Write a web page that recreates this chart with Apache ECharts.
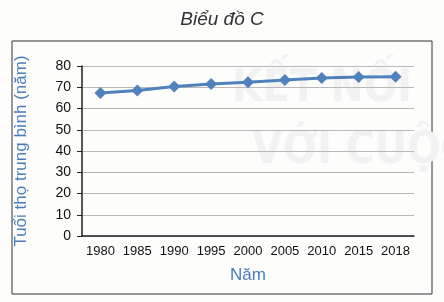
<!DOCTYPE html>
<html><head><meta charset="utf-8">
<script src="https://cdn.jsdelivr.net/npm/echarts@6/dist/echarts.min.js"></script>
<style>html,body{margin:0;padding:0;background:#fdfdfc}#c{width:444px;height:302px}</style>
</head><body><div id="c"></div>
<script>
const categories = ['1980','1985','1990','1995','2000','2005','2010','2015','2018'];
const lifeExpectancy = [67.3, 68.5, 70.3, 71.5, 72.4, 73.4, 74.4, 74.8, 74.9];
const yTicks = {min: 0, max: 80, interval: 10};
const titleText = 'Biểu đồ C';
const yName = 'Tuổi thọ trung bình (năm)';
const xName = 'Năm';

const chart = echarts.init(document.getElementById('c'), null, {renderer: 'canvas'});
chart.setOption({
  backgroundColor: '#fdfdfc',
  animation: false,
  title: {text: titleText, left: 'center', top: 5,
    textStyle: {fontFamily: 'Liberation Sans', fontStyle: 'italic', fontWeight: 'normal', fontSize: 19, color: '#333'}},
  graphic: [
    {type: 'rect', shape: {x: 12, y: 41, width: 420, height: 253}, style: {fill: 'none', stroke: '#333', lineWidth: 1}, z: -1},
    {type: 'text', left: 232, top: 68, style: {text: 'KẾT NỐI', fill: '#f2f2f2', font: 'bold 44px "DejaVu Sans Condensed"'}, z: -1},
    {type: 'text', left: 252, top: 130, style: {text: 'VỚI CUỘC', fill: '#f2f2f2', font: 'bold 44px "DejaVu Sans Condensed"'}, z: -1}
  ],
  grid: {left: 82, right: 30, top: 66, bottom: 66},
  xAxis: {type: 'category', data: categories, boundaryGap: true,
    name: xName, nameLocation: 'middle', nameGap: 31,
    nameTextStyle: {color: '#4a7ebb', fontSize: 17, fontFamily: 'Liberation Sans'},
    axisLine: {lineStyle: {color: '#222', width: 1.5}},
    axisTick: {alignWithLabel: true, interval: 0, lineStyle: {color: '#222'}, length: 4},
    axisLabel: {interval: 0, color: '#111', fontSize: 13, fontFamily: 'Liberation Sans', margin: 9}},
  yAxis: {type: 'value', min: yTicks.min, max: yTicks.max, interval: yTicks.interval,
    name: yName, nameLocation: 'middle', nameGap: 52, nameRotate: 90,
    nameTextStyle: {color: '#4a7ebb', fontSize: 17, fontFamily: 'Liberation Sans'},
    axisLine: {show: true, lineStyle: {color: '#222', width: 1.5}},
    axisTick: {show: true, length: 5, lineStyle: {color: '#222'}},
    axisLabel: {color: '#111', fontSize: 14, fontFamily: 'Liberation Sans', margin: 11},
    splitLine: {lineStyle: {color: '#b8b8b8', width: 1}}},
  series: [{type: 'line', data: lifeExpectancy, symbol: 'diamond', symbolSize: 12,
    lineStyle: {color: '#4f81bd', width: 3}, itemStyle: {color: '#4f81bd'}}]
});
</script></body></html>
